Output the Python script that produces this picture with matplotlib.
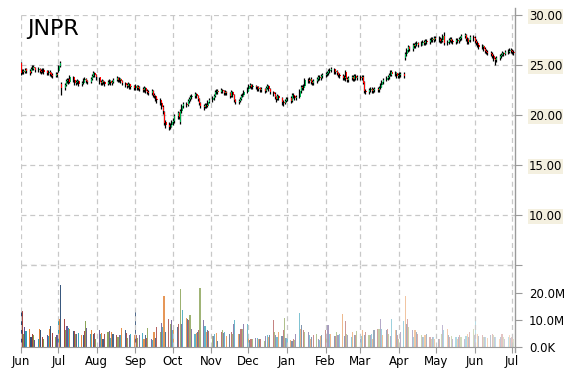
import datetime as dt
import numpy as np
import pandas as pd
import matplotlib
matplotlib.use("Agg")
import matplotlib.pyplot as plt
import matplotlib.dates as mdates
from matplotlib.colors import to_rgba
from matplotlib.lines import Line2D

plt.rcParams['font.family'] = ['DejaVu Sans']

TICKER = "JNPR"
# trading days Jun 2020 .. Jul 2 2021 (one value per business day)
dates = pd.bdate_range("2020-06-01", "2021-07-02")

opens = [
    25.2, 24.3, 24.4, 24.3, 24.6, 24.4, 24.3, 24.6, 24.8, 24.7, 24.5, 24.6, 24.4, 24.3, 24.5, 24.4, 24.2, 24.3, 24.2, 24.0, 23.9, 24.1,  # Jun
    24.4, 24.9, 23.1, 22.7, 23.0, 23.4, 23.6, 23.3, 23.8, 23.5, 23.2, 23.3, 23.4, 23.1, 23.2, 23.5, 23.6, 23.4, 23.3, 23.6, 23.9, 24.2, 24.0,  # Jul
    23.8, 23.3, 23.2, 23.4, 23.3, 23.1, 23.3, 23.4, 23.2, 23.3, 23.5, 23.7, 23.5, 23.6, 23.4, 23.2, 23.0, 22.9, 23.1, 22.8, 22.9,  # Aug
    22.7, 22.9, 22.7, 22.8, 22.6, 22.5, 22.7, 22.4, 22.3, 22.2, 22.4, 22.0, 21.9, 21.6, 21.5, 21.2, 20.8, 20.3, 19.3, 19.0, 18.8, 19.0,  # Sep
    19.3, 19.4, 19.9, 20.2, 19.3, 20.4, 20.9, 21.1, 21.0, 21.4, 21.6, 21.8, 21.9, 22.1, 21.9, 21.6, 21.2, 20.9, 20.8, 21.0, 20.9, 21.3,  # Oct
    21.5, 21.7, 21.9, 22.3, 22.4, 22.3, 22.5, 22.4, 22.2, 22.3, 22.2, 21.9, 22.3, 22.0, 21.5, 21.3, 21.4, 21.6, 21.9, 22.0, 22.3,  # Nov
    22.6, 22.9, 23.0, 22.8, 22.9, 22.8, 22.6, 22.7, 22.5, 22.6, 22.4, 22.7, 22.9, 22.6, 22.3, 22.1, 21.8, 21.6, 21.9, 21.7, 21.3, 21.2, 21.4,  # Dec
    21.6, 21.7, 21.4, 22.0, 21.9, 21.7, 21.8, 22.4, 22.8, 22.7, 22.9, 23.5, 23.4, 23.6, 23.3, 23.2, 23.4, 23.6, 23.8, 23.7, 23.9,  # Jan
    24.0, 24.1, 24.2, 24.4, 24.5, 24.6, 24.3, 24.4, 24.2, 24.0, 23.9, 23.7, 24.3, 23.6, 23.5, 23.7, 23.8, 23.6, 23.9, 23.7,  # Feb
    23.8, 23.7, 23.8, 23.3, 22.4, 22.3, 22.5, 22.6, 22.4, 22.5, 22.6, 22.5, 22.7, 23.0, 23.3, 23.5, 23.7, 23.8, 24.0, 24.3, 24.1, 24.2, 23.9,  # Mar
    24.0, 24.0, 24.1, 25.7, 26.1, 26.5, 26.8, 26.6, 27.0, 26.9, 27.1, 27.2, 27.0, 27.2, 27.3, 27.2, 27.4, 27.3, 27.5, 27.6, 27.5, 27.7,  # Apr
    27.6, 27.6, 27.4, 27.5, 27.9, 27.2, 27.3, 27.5, 27.6, 27.4, 27.3, 27.5, 27.4, 27.6, 27.7, 27.9, 28.0, 27.6, 27.3, 27.5, 27.8,  # May
    27.7, 27.4, 27.2, 27.0, 26.8, 26.9, 26.6, 26.4, 26.3, 26.2, 26.1, 25.9, 25.6, 25.5, 25.7, 25.9, 26.0, 26.2, 26.1, 26.3, 26.4, 26.5,  # Jun
    26.4, 26.3,  # Jul
]
closes = [
    24.2, 24.4, 24.3, 24.5, 24.4, 24.2, 24.6, 24.8, 24.7, 24.5, 24.6, 24.4, 24.3, 24.5, 24.3, 24.2, 24.3, 24.1, 24.0, 23.9, 24.1, 24.0,
    24.9, 25.2, 22.7, 23.0, 23.4, 23.5, 23.3, 23.8, 23.5, 23.2, 23.3, 23.4, 23.1, 23.2, 23.5, 23.6, 23.4, 23.3, 23.6, 23.9, 24.2, 24.0, 23.8,
    23.3, 23.2, 23.4, 23.3, 23.1, 23.3, 23.4, 23.2, 23.3, 23.5, 23.7, 23.5, 23.6, 23.4, 23.2, 23.0, 22.9, 23.1, 22.8, 22.9, 22.7,
    22.9, 22.7, 22.8, 22.6, 22.5, 22.7, 22.4, 22.3, 22.2, 22.4, 22.0, 21.9, 21.6, 21.5, 21.2, 20.8, 20.4, 19.2, 19.0, 18.8, 19.0, 19.3,
    19.4, 19.9, 20.2, 19.8, 20.4, 20.9, 21.1, 21.0, 21.4, 21.6, 21.8, 21.9, 22.1, 21.9, 21.6, 21.2, 20.9, 20.8, 21.0, 20.9, 21.3, 21.5,
    21.7, 21.9, 22.3, 22.4, 22.3, 22.5, 22.4, 22.2, 22.3, 22.2, 21.9, 22.3, 22.0, 21.5, 21.3, 21.4, 21.6, 21.9, 22.0, 22.3, 22.6,
    22.9, 23.0, 22.8, 22.9, 22.8, 22.6, 22.7, 22.5, 22.6, 22.4, 22.7, 22.9, 22.6, 22.3, 22.1, 21.8, 21.6, 21.9, 21.7, 21.3, 21.2, 21.4, 21.6,
    21.6, 21.4, 22.0, 21.9, 21.7, 21.8, 22.4, 22.8, 22.7, 22.9, 23.5, 23.4, 23.6, 23.3, 23.2, 23.4, 23.6, 23.8, 23.7, 23.9, 24.0,
    24.1, 24.2, 24.4, 24.5, 24.6, 24.3, 24.4, 24.2, 24.0, 23.9, 23.7, 23.8, 23.6, 23.5, 23.7, 23.8, 23.6, 23.9, 23.7, 23.8,
    23.7, 23.8, 23.2, 22.4, 22.3, 22.5, 22.6, 22.4, 22.5, 22.6, 22.5, 22.7, 23.0, 23.3, 23.5, 23.7, 23.8, 24.0, 24.3, 24.1, 24.2, 23.9, 24.0,
    24.0, 24.1, 23.9, 26.1, 26.5, 26.8, 26.6, 27.0, 26.9, 27.1, 27.2, 27.0, 27.2, 27.3, 27.2, 27.4, 27.3, 27.5, 27.6, 27.5, 27.7, 27.6,
    27.6, 27.4, 27.5, 27.9, 27.2, 27.3, 27.5, 27.6, 27.4, 27.3, 27.5, 27.4, 27.6, 27.7, 27.9, 28.0, 27.6, 27.3, 27.5, 27.8, 27.7,
    27.4, 27.2, 27.0, 26.8, 26.9, 26.6, 26.4, 26.3, 26.2, 26.1, 25.9, 25.6, 25.5, 25.7, 25.9, 26.0, 26.2, 26.1, 26.3, 26.4, 26.5, 26.4,
    26.3, 26.2,
]
highs = [
    25.3, 24.6, 24.6, 24.7, 24.7, 24.6, 24.8, 25.0, 25.0, 24.8, 24.8, 24.7, 24.6, 24.7, 24.7, 24.5, 24.5, 24.5, 24.3, 24.2, 24.3, 24.3,
    25.0, 25.4, 23.3, 23.2, 23.6, 23.7, 23.7, 24.0, 23.9, 23.6, 23.5, 23.6, 23.5, 23.4, 23.7, 23.8, 23.7, 23.5, 23.8, 24.1, 24.4, 24.3, 24.1,
    23.8, 23.5, 23.6, 23.5, 23.4, 23.5, 23.6, 23.5, 23.5, 23.7, 23.9, 23.8, 23.8, 23.7, 23.5, 23.3, 23.2, 23.3, 23.2, 23.1, 23.0,
    23.1, 23.0, 23.0, 22.9, 22.8, 22.9, 22.8, 22.6, 22.5, 22.6, 22.5, 22.2, 22.0, 21.8, 21.7, 21.4, 21.0, 20.4, 19.5, 19.3, 19.2, 19.5,
    19.7, 20.1, 20.4, 20.3, 20.6, 21.1, 21.3, 21.3, 21.6, 21.8, 22.0, 22.1, 22.3, 22.2, 22.0, 21.7, 21.3, 21.1, 21.2, 21.2, 21.5, 21.7,
    21.9, 22.1, 22.5, 22.6, 22.6, 22.7, 22.6, 22.5, 22.5, 22.4, 22.3, 22.5, 22.4, 22.1, 21.6, 21.6, 21.8, 22.1, 22.2, 22.5, 22.8,
    23.1, 23.2, 23.1, 23.1, 23.0, 22.9, 22.9, 22.8, 22.8, 22.7, 22.9, 23.1, 23.0, 22.7, 22.4, 22.3, 21.9, 22.1, 22.0, 21.8, 21.5, 21.6, 21.8,
    21.8, 21.9, 22.2, 22.2, 22.0, 22.0, 22.6, 23.0, 23.0, 23.1, 23.7, 23.7, 23.8, 23.8, 23.5, 23.6, 23.8, 24.0, 24.0, 24.1, 24.2,
    24.3, 24.4, 24.6, 24.7, 24.8, 24.7, 24.6, 24.5, 24.3, 24.2, 24.1, 24.0, 24.5, 23.8, 23.9, 24.0, 24.0, 24.1, 24.1, 24.0,
    24.0, 24.0, 24.0, 23.4, 22.6, 22.7, 22.8, 22.8, 22.7, 22.8, 22.8, 22.9, 23.2, 23.5, 23.7, 23.9, 24.0, 24.2, 24.5, 24.5, 24.4, 24.3, 24.2,
    24.3, 24.3, 24.3, 26.3, 26.7, 27.0, 26.9, 27.2, 27.2, 27.3, 27.4, 27.3, 27.4, 27.5, 27.5, 27.6, 27.6, 27.7, 27.8, 27.8, 27.9, 27.9,
    27.9, 27.8, 27.7, 28.1, 28.3, 27.5, 27.7, 27.8, 27.8, 27.6, 27.7, 27.7, 27.8, 27.9, 28.1, 28.2, 28.1, 27.8, 27.7, 28.0, 28.0,
    27.9, 27.6, 27.4, 27.2, 27.1, 27.0, 26.8, 26.6, 26.5, 26.4, 26.3, 26.1, 25.8, 25.9, 26.1, 26.2, 26.4, 26.3, 26.5, 26.6, 26.7, 26.7,
    26.6, 26.5,
]
lows = [
    24.0, 24.1, 24.1, 24.2, 24.2, 24.0, 24.2, 24.5, 24.5, 24.3, 24.3, 24.2, 24.1, 24.2, 24.1, 24.0, 24.0, 23.9, 23.8, 23.7, 23.8, 23.8,
    24.3, 24.8, 22.0, 22.5, 22.9, 23.2, 23.1, 23.2, 23.3, 23.0, 23.0, 23.1, 22.9, 22.9, 23.1, 23.3, 23.2, 23.1, 23.2, 23.5, 23.8, 23.8, 23.5,
    23.1, 23.0, 23.0, 23.1, 22.9, 23.0, 23.1, 23.0, 23.0, 23.2, 23.4, 23.3, 23.3, 23.2, 23.0, 22.8, 22.7, 22.8, 22.6, 22.6, 22.5,
    22.5, 22.5, 22.5, 22.4, 22.3, 22.3, 22.2, 22.1, 22.0, 22.0, 21.8, 21.7, 21.4, 21.2, 21.0, 20.6, 20.1, 19.0, 18.7, 18.5, 18.6, 18.8,
    19.0, 19.2, 19.6, 19.6, 19.1, 20.2, 20.7, 20.8, 20.9, 21.2, 21.4, 21.6, 21.7, 21.7, 21.4, 21.0, 20.7, 20.5, 20.7, 20.7, 20.8, 21.2,
    21.3, 21.5, 21.8, 22.1, 22.1, 22.2, 22.2, 22.0, 22.0, 22.0, 21.7, 21.8, 21.8, 21.3, 21.1, 21.1, 21.3, 21.5, 21.8, 21.9, 22.2,
    22.4, 22.7, 22.6, 22.6, 22.6, 22.4, 22.4, 22.3, 22.3, 22.2, 22.3, 22.6, 22.4, 22.1, 21.9, 21.6, 21.3, 21.5, 21.5, 21.0, 20.9, 21.1, 21.3,
    21.4, 21.2, 21.3, 21.7, 21.5, 21.5, 21.7, 22.2, 22.5, 22.5, 22.8, 23.2, 23.2, 23.1, 23.0, 23.0, 23.2, 23.4, 23.5, 23.5, 23.7,
    23.8, 23.9, 24.0, 24.2, 24.3, 24.1, 24.1, 24.0, 23.8, 23.7, 23.5, 23.5, 23.4, 23.3, 23.3, 23.5, 23.4, 23.4, 23.5, 23.5,
    23.5, 23.5, 23.1, 22.2, 22.1, 22.1, 22.3, 22.2, 22.2, 22.3, 22.3, 22.3, 22.6, 22.8, 23.1, 23.4, 23.5, 23.6, 23.9, 23.9, 23.9, 23.7, 23.7,
    23.7, 23.8, 23.7, 25.5, 25.9, 26.3, 26.4, 26.4, 26.7, 26.7, 26.9, 26.8, 26.9, 27.0, 27.0, 27.0, 27.1, 27.1, 27.3, 27.3, 27.3, 27.4,
    27.3, 27.2, 27.2, 27.3, 27.0, 27.0, 27.1, 27.3, 27.2, 27.1, 27.1, 27.2, 27.2, 27.4, 27.5, 27.7, 27.4, 27.1, 27.1, 27.3, 27.4,
    27.2, 27.0, 26.8, 26.6, 26.6, 26.4, 26.2, 26.1, 26.0, 25.9, 25.7, 25.4, 25.0, 25.3, 25.5, 25.7, 25.9, 25.9, 26.0, 26.1, 26.2, 26.2,
    26.1, 26.0,
]
# volume, millions of shares
volume = [
    14.4, 13.4, 4.8, 7.4, 5.8, 6.5, 3.7, 4.8, 4.3, 2.5, 3.1, 6.5, 6.2, 3.7, 3.1, 4.3, 4.0, 6.5, 7.9, 5.1, 3.8, 4.5,
    9.8, 10.2, 23.0, 10.4, 6.2, 7.9, 7.2, 6.5, 5.8, 5.8, 4.8, 4.8, 5.1, 4.3, 4.3, 5.8, 9.8, 7.2, 4.8, 6.2, 4.9, 5.1, 3.1,
    6.2, 4.9, 5.1, 3.1, 4.9, 5.6, 5.8, 3.5, 5.6, 4.9, 4.3, 3.7, 4.3, 4.3, 7.2, 6.2, 5.1, 3.5, 4.3, 5.0, 4.5,
    13.6, 4.3, 3.5, 4.3, 5.1, 2.8, 4.3, 3.5, 7.2, 2.8, 2.5, 5.6, 3.5, 7.4, 5.6, 9.0, 7.4, 19.0, 5.6, 10.4, 8.6, 9.9,
    6.2, 6.2, 7.4, 8.6, 21.5, 8.4, 13.6, 10.9, 10.4, 9.9, 11.9, 6.5, 4.9, 5.1, 5.6, 6.2, 21.8, 10.0, 7.7, 5.6, 6.2, 5.8,
    4.1, 4.1, 4.9, 5.1, 2.3, 5.6, 6.2, 5.1, 5.6, 3.9, 4.7, 5.6, 4.9, 8.6, 9.9, 4.7, 4.7, 6.5, 6.5, 8.4, 8.6,
    3.5, 2.5, 2.8, 3.1, 3.2, 3.5, 2.8, 2.8, 3.1, 2.2, 3.9, 4.3, 3.7, 4.3, 9.9, 5.6, 4.3, 3.7, 5.6, 4.1, 6.2, 10.8, 3.5,
    3.5, 2.5, 2.2, 2.8, 2.5, 4.9, 12.7, 6.8, 8.0, 6.2, 5.6, 5.6, 4.3, 3.1, 3.7, 4.3, 4.9, 3.1, 2.5, 4.0, 4.5,
    6.2, 4.9, 8.0, 4.9, 4.9, 4.0, 4.0, 5.6, 4.3, 5.0, 12.3, 4.0, 9.6, 4.9, 4.3, 3.7, 5.6, 4.6, 4.3, 6.0,
    3.1, 4.0, 6.2, 4.3, 5.6, 4.3, 4.3, 4.9, 3.1, 6.2, 6.5, 6.8, 10.2, 6.5, 4.3, 6.2, 6.8, 4.9, 4.0, 10.2, 6.2, 6.2, 4.3,
    3.1, 5.6, 9.6, 18.9, 8.6, 10.2, 7.4, 6.2, 3.7, 6.2, 5.6, 4.9, 4.3, 3.7, 3.7, 4.3, 4.9, 3.7, 3.1, 3.7, 3.7, 3.1,
    3.1, 3.1, 4.9, 8.0, 6.2, 6.8, 4.3, 3.7, 3.9, 3.1, 3.7, 3.1, 3.7, 4.3, 3.7, 3.1, 4.0, 4.9, 3.7, 5.6, 6.8,
    4.3, 9.5, 4.9, 3.9, 4.3, 3.7, 3.7, 3.7, 3.5, 4.3, 4.9, 4.3, 3.7, 3.7, 3.1, 3.7, 4.9, 3.7, 3.1, 3.7, 4.3, 3.5,
    3.7, 3.1,
]
price_ticks = [5, 10, 15, 20, 25, 30]
price_labels = ["", "10.00", "15.00", "20.00", "25.00", "30.00"]
vol_ticks = [0, 10, 20]
vol_labels = ["0.0K", "10.0M", "20.0M"]

UP = "#00b050"
DOWN = "#ff0000"
GRID = "#c8c8c8"
AXIS = "#9a9a9a"
VOL_COLORS = ["#2c4d75", "#a33b38", "#7e9a45", "#5f4b8b", "#2b9bb5", "#e07b2b"]

x = mdates.date2num(dates)
o, c, h, l = map(np.array, (opens, closes, highs, lows))

fig = plt.figure(figsize=(5.7, 3.7), dpi=100)
L, R = 21 / 570, 515 / 570
ax = fig.add_axes([L, 1 - 265 / 370, R - L, 250 / 370])
axv = fig.add_axes([L, 1 - 347 / 370, R - L, 82 / 370], sharex=ax)
axv.patch.set_alpha(0)

x0 = mdates.date2num(dt.datetime(2020, 6, 1))
ax.set_xlim(x0, x0 + 494 / 1.243)

# candles: black wick, small coloured body beside it
ax.vlines(x, l, h, color="black", lw=0.9, zorder=3)
up = c >= o
body_lo = np.minimum(o, c)
body_h = np.abs(c - o)
ax.bar(x + 0.3, body_h, bottom=body_lo, width=0.8, align="edge",
       color=np.where(up, UP, DOWN), lw=0, zorder=4)

ax.set_ylim(5, 30)
ax.set_yticks(price_ticks)
ax.yaxis.tick_right()
ax.set_yticklabels(price_labels)
for t in ax.get_yticklabels():
    t.set_bbox(dict(boxstyle="square,pad=0.1", fc="#f4f0e0", ec="none"))
ax.grid(True, ls=(0, (4, 3)), color=GRID, lw=0.9)
# separator between price and volume panes (5.00 level)
ax.axhline(5, ls=(0, (4, 3)), color=GRID, lw=1.0, clip_on=False, zorder=5)
for s in ["left", "top", "bottom", "right"]:
    ax.spines[s].set_visible(False)
ax.tick_params(axis="y", colors=AXIS, labelcolor="black", labelsize=8.5, length=5, pad=5)
ax.tick_params(axis="x", bottom=False, labelbottom=False)
ax.text(0.012, 0.985, TICKER, transform=ax.transAxes, fontsize=16, va="top", ha="left")

# volume
n = len(volume)
cols = [to_rgba(VOL_COLORS[i % len(VOL_COLORS)], 1.0 - 0.72 * i / (n - 1)) for i in range(n)]
axv.bar(x, volume, width=0.9, color=cols, lw=0)
axv.set_ylim(0, 82 / 2.7)
axv.set_yticks(vol_ticks)
axv.set_yticklabels(vol_labels)
axv.yaxis.tick_right()
axv.grid(True, axis="x", ls=(0, (4, 3)), color=GRID, lw=0.9)
for s in ["left", "top", "right"]:
    axv.spines[s].set_visible(False)
axv.spines["bottom"].set_color(AXIS)
axv.tick_params(axis="y", colors=AXIS, labelcolor="black", labelsize=8.5, length=5, pad=5)
axv.xaxis.set_major_locator(mdates.MonthLocator())
axv.xaxis.set_major_formatter(mdates.DateFormatter("%b"))
axv.tick_params(axis="x", colors=AXIS, labelcolor="black", labelsize=8.5, length=4, pad=2)

# right-hand axis line running the full height
fig.add_artist(Line2D([R, R], [1 - 352 / 370, 1 - 8 / 370], transform=fig.transFigure,
                      color=AXIS, lw=1.0))

fig.savefig("out.png", dpi=100)
